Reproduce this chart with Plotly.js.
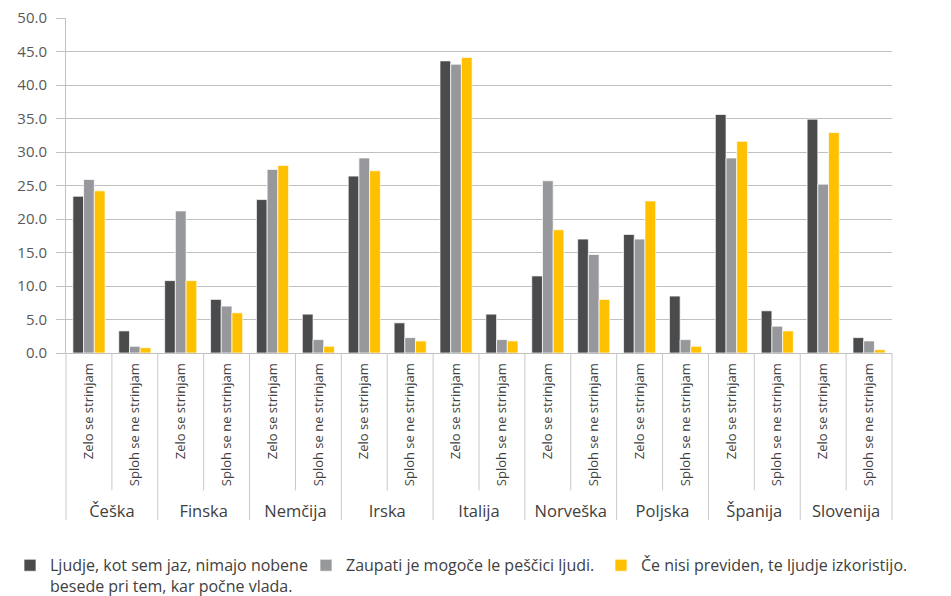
<!DOCTYPE html>
<html><head><meta charset="utf-8">
<script src="https://cdn.plot.ly/plotly-3.0.1.min.js"></script>
<style>
html,body{margin:0;padding:0;background:#fff}#chart{width:951px;height:596px}
</style>
</head><body><div id="chart"></div>
<script>
const countries = ["Češka","Finska","Nemčija","Irska","Italija","Norveška","Poljska","Španija","Slovenija"];
const answers = ["Zelo se strinjam","Sploh se ne strinjam"];
const seriesNames = [
  "Ljudje, kot sem jaz, nimajo nobene<br>besede pri tem, kar počne vlada.",
  "Zaupati je mogoče le peščici ljudi.",
  "Če nisi previden, te ljudje izkoristijo."
];
// values ordered: country1 Zelo, country1 Sploh, country2 Zelo, ...
const ljudjeNimajo = [23.4,3.3, 10.8,8.0, 22.9,5.8, 26.4,4.5, 43.6,5.8, 11.5,17.0, 17.7,8.5, 35.6,6.3, 34.9,2.3];
const zaupatiPescici = [25.9,1.0, 21.2,7.0, 27.4,2.0, 29.1,2.3, 43.1,2.0, 25.7,14.7, 17.0,2.0, 29.1,4.0, 25.2,1.8];
const izkoristijo = [24.2,0.8, 10.8,6.0, 28.0,1.0, 27.2,1.8, 44.1,1.8, 18.4,8.0, 22.7,1.0, 31.6,3.3, 32.9,0.5];
const colors = ["#4a4b4d","#97989b","#ffc000"];
const yTicks = [0,5,10,15,20,25,30,35,40,45,50];

// category slots: index i = country*2 + answer
const innerLabels = [];
countries.forEach(() => answers.forEach(a => innerLabels.push(a)));
const slotIdx = innerLabels.map((_, i) => i);
const nCat = innerLabels.length;

const legendIds = ["legend", "legend2", "legend3"];
const data = [ljudjeNimajo, zaupatiPescici, izkoristijo].map((vals, i) => ({
  type: "bar", name: seriesNames[i], legend: legendIds[i],
  x: slotIdx, y: vals,
  marker: {color: colors[i], line: {color: "rgba(255,255,255,0.7)", width: 1}},
  hoverinfo: "y"
}));
// carrier for the country-level axis labels (no visible marks)
data.push({
  type: "scatter", mode: "none", xaxis: "x2", yaxis: "y",
  x: countries, y: countries.map(() => null),
  showlegend: false, hoverinfo: "skip"
});

// divider shapes computed from category count
const shapes = [];
const lineCol = "#c8c8c8";
for (let k = 0; k <= nCat; k++) {
  const isCountry = (k % answers.length === 0);
  shapes.push({
    type: "line", xref: "paper", yref: "paper",
    x0: k / nCat, x1: k / nCat, y0: 0, y1: isCountry ? -0.499 : -0.41,
    line: {color: lineCol, width: 1}
  });
}

const legendBase = {
  orientation: "h", xref: "container", yref: "container",
  xanchor: "left", y: 0.08, yanchor: "top",
  font: {size: 16, color: "#404040"}, valign: "top", itemwidth: 30,
  bgcolor: "rgba(0,0,0,0)"
};
const legendX = [10, 306, 601];

const layout = {
  width: 951, height: 596,
  margin: {l: 66, r: 59, t: 18, b: 243, autoexpand: false},
  paper_bgcolor: "#fff", plot_bgcolor: "#fff",
  barmode: "group", bargap: 0.3, bargroupgap: 0,
  font: {family: "Open Sans, sans-serif", color: "#404040"},
  showlegend: true,
  legend: Object.assign({}, legendBase, {x: legendX[0] / 951}),
  legend2: Object.assign({}, legendBase, {x: legendX[1] / 951}),
  legend3: Object.assign({}, legendBase, {x: legendX[2] / 951}),
  xaxis: {
    range: [-0.5, nCat - 0.5],
    tickvals: slotIdx, ticktext: innerLabels,
    tickangle: -90,
    tickfont: {size: 13, color: "#404040"},
    ticks: "", ticklabelstandoff: 4,
    showline: true, linecolor: "#c0c0c0", linewidth: 1,
    showgrid: false, zeroline: false, fixedrange: true, automargin: false
  },
  xaxis2: {
    type: "category", overlaying: "x", side: "bottom", anchor: "y",
    categoryarray: countries, categoryorder: "array",
    range: [-0.5, countries.length - 0.5],
    tickfont: {size: 16.5, color: "#404040"},
    ticks: "", ticklabelstandoff: 146,
    showline: false, showgrid: false, zeroline: false, fixedrange: true, automargin: false
  },
  yaxis: {
    range: [0, 50], tickvals: yTicks, ticktext: yTicks.map(v => v.toFixed(1)),
    tickfont: {size: 15, color: "#595959"},
    showgrid: true, gridcolor: "#c0c0c0", gridwidth: 1,
    ticks: "outside", ticklen: 9, tickcolor: "#c0c0c0", ticklabelstandoff: 6,
    showline: true, linecolor: "#c0c0c0", linewidth: 1,
    zeroline: false, fixedrange: true, automargin: false
  },
  shapes: shapes
};

Plotly.newPlot("chart", data, layout, {displayModeBar: false, staticPlot: true});
</script></body></html>
